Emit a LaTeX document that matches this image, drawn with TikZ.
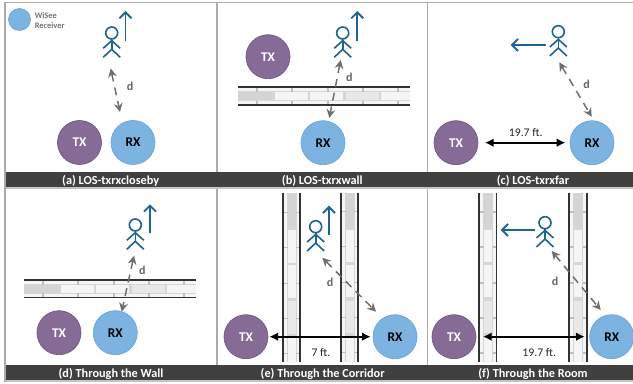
\documentclass[tikz,border=0pt]{standalone}
\usepackage{fontspec}
\setmainfont{Carlito}
\usetikzlibrary{arrows.meta}
\definecolor{txpurple}{HTML}{866B96}
\definecolor{txedge}{HTML}{6F5A80}
\definecolor{rxblue}{HTML}{7CB3E1}
\definecolor{rxedge}{HTML}{6AA3D4}
\definecolor{walker}{HTML}{1F6391}
\definecolor{dashgrey}{HTML}{6E6E6E}
\definecolor{bar}{HTML}{404040}
\definecolor{framegrey}{HTML}{ABABAB}
\tikzset{
  x=.75pt,y=-.75pt,
  nodecirc/.style={circle,minimum size=33pt,inner sep=0pt,line width=.5pt,font=\fontsize{10}{10}\selectfont\bfseries},
  txnode/.style={nodecirc,fill=txpurple,draw=txedge,text=white},
  rxnode/.style={nodecirc,fill=rxblue,draw=rxedge,text=black},
  capt/.style={font=\fontsize{9.2}{9}\selectfont\bfseries,text=white,inner sep=0pt},
  dlabel/.style={font=\fontsize{9}{9}\selectfont\bfseries,text=black!60,inner sep=0pt},
  dist/.style={font=\fontsize{8.8}{9}\selectfont,text=black!85,inner sep=0pt},
  sep/.style={line width=1.4pt,{Latex[length=6.5pt,width=6.5pt]}-{Latex[length=6.5pt,width=6.5pt]},black},
  darrow/.style={line width=1.1pt,draw=dashgrey,dash pattern=on 6pt off 4.5pt,{Stealth[length=6.5pt,width=6.5pt]}-{Stealth[length=6.5pt,width=6.5pt]}},
  moveto/.style={line width=1.4pt,draw=walker,-{Straight Barb[length=4.5pt,width=9pt,line width=1.4pt]}},
  headnode/.style={circle,draw=walker,line width=1.2pt,minimum size=9pt,inner sep=0pt},
  limb/.style={draw=walker,line width=1.2pt},
  wallline/.style={line width=1.25pt,draw=black!80},
}
% wall body in local coordinates: u along the wall, v across it
\newcommand{\wallbody}[1]{%
  \begin{scope}
    \clip (0,-1) rectangle (#1,19);
    \fill[black!4] (0,1) rectangle (#1,17);
    \fill[black!16] (0,4) rectangle (#1,14);
    \foreach \u/\c in {0/black!17,36/black!4,71/black!4,107/black!9,142/black!4}{
      \fill[\c] (\u+1,5) rectangle (\u+33.5,13);
    }
    \foreach \u in {19,54,90,125,160}{
      \draw[black!25,line width=.8pt] (\u,1) -- (\u,5);
      \draw[black!25,line width=.8pt] (\u,13.5) -- (\u,17);
    }
  \end{scope}
  \draw[wallline] (0,0) -- (#1,0);
  \draw[wallline] (0,17.6) -- (#1,17.6);
}
\newcommand{\hwall}[3]{\begin{scope}[shift={(#1,#2)}]\wallbody{#3}\end{scope}}
\newcommand{\vwall}[3]{\begin{scope}[shift={(#1,#2)},x={(0pt,-.75pt)},y={(.75pt,0pt)}]\wallbody{#3}\end{scope}}
% #1 name, #2 x, #3 y of head centre
\newcommand{\person}[3]{%
  \node[headnode] (#1) at (#2,#3) {};
  \draw[limb] (#1.south) -- ++(0,9.5) coordinate (#1hip);
  \draw[limb] (#2-8.5,#3+15.3) -- (#2,#3+7.7) -- (#2+8.5,#3+15.3);
  \draw[limb] (#2-8.5,#3+24.3) -- (#1hip) -- (#2+8.5,#3+24.3);
}
\begin{document}
\begin{tikzpicture}
\useasboundingbox (0,0) rectangle (633,384);
\fill[white] (0,0) rectangle (633,384);
% frame
\draw[framegrey,line width=1pt] (5,2.2) -- (633,2.2);
\draw[framegrey,line width=1.1pt] (5,2) -- (5,382.5);
\draw[framegrey,line width=.8pt] (217,2) -- (217,382.5);
\draw[framegrey,line width=.8pt] (427.7,2) -- (427.7,382.5);
\fill[framegrey!70] (5.5,187) rectangle (633,189.5);
\fill[framegrey!70] (5.5,380) rectangle (633,382.5);
\fill[bar] (5.5,172.5) rectangle (633,187);
\fill[bar] (5.5,365) rectangle (633,380);
% captions
\node[capt] (capa) at (110.7,181) {(a) LOS-txrxcloseby};
\node[capt] (capb) at (322.3,181) {(b) LOS-txrxwall};
\node[capt] (capc) at (533,181) {(c) LOS-txrxfar};
\node[capt] (capd) at (111,374) {(d) Through the Wall};
\node[capt] (cape) at (322.7,374) {(e) Through the Corridor};
\node[capt] (capf) at (533,374) {(f) Through the Room};
% legend
\node[circle,minimum size=16.5pt,inner sep=0pt,fill=rxblue,draw=rxedge,line width=.5pt] (legend) at (19.5,19.5) {};
\node[anchor=west,inner sep=0pt,align=left,text=black!55,font=\fontsize{6.3}{7.6}\selectfont\bfseries] (legendtext) at (34.5,20.5) {WiSee\\Receiver};
% walls
\hwall{238}{87.3}{172}
\hwall{24}{280}{172}
\vwall{282.7}{193.3}{169}
\vwall{340.7}{192.7}{169.5}
\vwall{479}{193}{169.5}
\vwall{569.3}{193}{169}
% (a)
\node[txnode] (txa) at (79.5,142.5) {TX};
\node[rxnode] (rxa) at (133,142.5) {RX};
\person{pa}{111.7}{33}
\coordinate (ma) at (125.5,41); \coordinate (mae) at (125.5,11);
\draw[moveto] (ma) -- (mae);
\coordinate (da) at (110.7,68.5); \coordinate (dae) at (120,112);
\draw[darrow] (da) -- (dae);
\node[dlabel] (la) at (130,86) {d};
% (b)
\node[txnode] (txb) at (268,56.7) {TX};
\node[rxnode] (rxb) at (323,142.7) {RX};
\person{pb}{342.7}{33}
\coordinate (mb) at (357.3,41); \coordinate (mbe) at (357.3,11);
\draw[moveto] (mb) -- (mbe);
\coordinate (db) at (340.7,60); \coordinate (dbe) at (329.3,118);
\draw[darrow] (db) -- (dbe);
\node[dlabel] (lb) at (349.3,77) {d};
% (c)
\node[txnode] (txc) at (456,142.7) {TX};
\node[rxnode] (rxc) at (592,142.7) {RX};
\person{pc}{558.3}{31.7}
\coordinate (mc) at (546,45); \coordinate (mce) at (510.7,45);
\draw[moveto] (mc) -- (mce);
\coordinate (dc) at (559.3,62.3); \coordinate (dce) at (591.7,116.7);
\draw[darrow] (dc) -- (dce);
\node[dlabel] (lc) at (586.7,84) {d};
\draw[sep,shorten <=5pt,shorten >=3.2pt] (txc) -- (rxc);
\node[dist] (wc) at (525.7,133) {19.7 ft.};
% (d)
\node[txnode] (txd) at (59,332.7) {TX};
\node[rxnode] (rxd) at (115.3,332.7) {RX};
\person{pd}{135.3}{225}
\coordinate (md) at (150,233.3); \coordinate (mde) at (150,204.3);
\draw[moveto] (md) -- (mde);
\coordinate (dd) at (134,255.7); \coordinate (dde) at (121.7,311.7);
\draw[darrow] (dd) -- (dde);
\node[dlabel] (ld) at (142.3,270) {d};
% (e)
\node[txnode] (txe) at (246,336.7) {TX};
\node[rxnode] (rxe) at (395,336.7) {RX};
\person{pe}{315.7}{226.7}
\coordinate (me) at (329,235); \coordinate (mee) at (329,205.7);
\draw[moveto] (me) -- (mee);
\coordinate (de) at (322.3,257.7); \coordinate (dee) at (376,311.7);
\draw[darrow] (de) -- (dee);
\node[dlabel] (le) at (330,282) {d};
\draw[sep,shorten <=.8pt,shorten >=1.5pt] (txe) -- (rxe);
\node[dist] (we) at (321,352.3) {7 ft.};
% (f)
\node[txnode] (txf) at (454,336.7) {TX};
\node[rxnode] (rxf) at (611.7,336.7) {RX};
\person{pf}{545}{222.7}
\coordinate (mf) at (535,230); \coordinate (mfe) at (500.7,230);
\draw[moveto] (mf) -- (mfe);
\coordinate (df) at (551.7,251); \coordinate (dfe) at (600.7,310);
\draw[darrow] (df) -- (dfe);
\node[dlabel] (lf) at (555,281) {d};
\draw[sep,shorten <=5pt,shorten >=3.5pt] (txf) -- (rxf);
\node[dist] (wf) at (539.3,352.3) {19.7 ft.};
\end{tikzpicture}
\end{document}
